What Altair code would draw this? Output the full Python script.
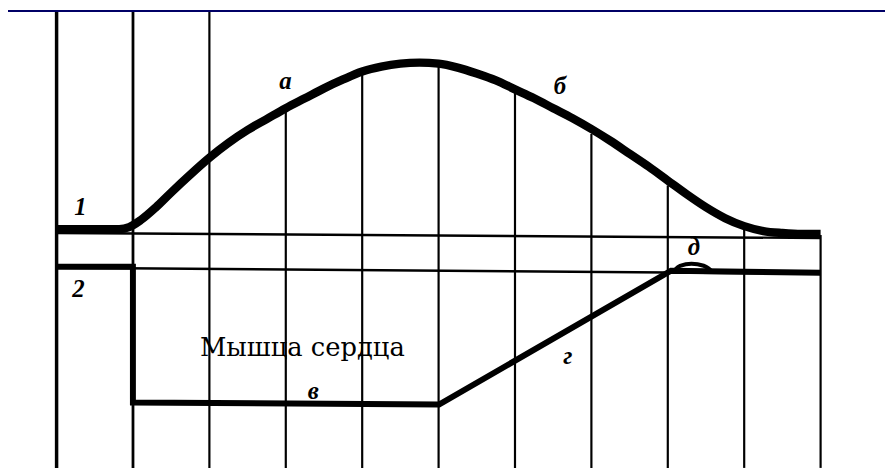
import altair as alt
import pandas as pd

# x: time in grid divisions (one division per vertical line, 0..10)
# v: deflection above baseline of trace 1 (arbitrary units)

grid_t = [0, 1, 2, 3, 4, 5, 6, 7, 8, 9, 10]
grid_top = [225, 225, 225, 127, 163, 171, 144, 102, 50, 7, 0]
grid_bottom = [-235] * 11
grid_w = [3.5, 2.8, 2.2, 2.2, 2.2, 2.2, 2.2, 2.2, 2.2, 2.2, 2.2]

# trace 1: contraction curve
c1_t = [0, 0.817, 0.95, 1.1, 1.3, 1.5, 1.75, 2.0, 2.25, 2.5, 2.75, 3.0, 3.25,
        3.5, 3.75, 4.0, 4.25, 4.5, 4.75, 5.0, 5.25, 5.5, 5.75, 6.0, 6.25, 6.5,
        6.75, 7.0, 7.25, 7.5, 7.75, 8.0, 8.25, 8.5, 8.75, 9.0, 9.25, 9.5, 9.75, 10]
c1_v = [6, 6, 8, 15, 28, 43, 61, 78, 93, 106, 117, 128, 138,
        148, 157, 165, 170, 173, 174, 173, 169, 163, 156, 147, 138, 128,
        118, 107, 95, 82, 69, 55, 41, 28, 17, 9, 4, 2, 1, 1]

# trace 2: heart-muscle excitability
c2_t = [0, 0.999, 0.999, 5.006, 8.042, 10]
c2_v = [-32, -32, -169, -171, -36, -38]

# small hump "д"
hump_t = [8.08, 8.16, 8.31, 8.47, 8.57]
hump_v = [-36, -31, -29, -31, -36]

# thin baselines
base_series = ["1", "1", "2", "2"]
base_t = [0, 10, 0, 10]
base_v = [2, -3, -33, -39]

# labels
lab_text = ["1", "2", "а", "б", "в", "г", "д"]
lab_t = [0.311, 0.285, 2.996, 6.589, 3.359, 6.693, 8.340]
lab_v = [20, -63, 147, 142, -165, -130, -20]

cap_text = ["Мышца сердца"]
cap_t = [3.217]
cap_v = [-122]

W, H = 885, 462
xs = alt.Scale(domain=[-0.636, 10.843], nice=False, zero=False)
ys = alt.Scale(domain=[-235, 227], nice=False, zero=False)

X = lambda f: alt.X(f, type="quantitative", scale=xs, axis=None)
Y = lambda f: alt.Y(f, type="quantitative", scale=ys, axis=None)

grid_df = pd.DataFrame({"t": grid_t, "top": grid_top, "bot": grid_bottom, "w": grid_w})
c1_df = pd.DataFrame({"t": c1_t, "v": c1_v})
c2_df = pd.DataFrame({"t": c2_t, "v": c2_v, "i": list(range(len(c2_t)))})
hump_df = pd.DataFrame({"t": hump_t, "v": hump_v})
base_df = pd.DataFrame({"s": base_series, "t": base_t, "v": base_v})
lab_df = pd.DataFrame({"t": lab_t, "v": lab_v, "txt": lab_text})
cap_df = pd.DataFrame({"t": cap_t, "v": cap_v, "txt": cap_text})

grid = alt.Chart(grid_df).mark_rule(color="black").encode(
    x=X("t"), y=Y("top"), y2="bot",
    strokeWidth=alt.StrokeWidth("w:Q", scale=None, legend=None),
)

base = alt.Chart(base_df).mark_line(color="black", strokeWidth=2.5).encode(
    x=X("t"), y=Y("v"), detail="s:N"
)

c1 = alt.Chart(c1_df).mark_line(color="black", strokeWidth=8.5, interpolate="monotone",
                                strokeCap="butt").encode(x=X("t"), y=Y("v"))

c2 = alt.Chart(c2_df).mark_line(color="black", strokeWidth=6, strokeJoin="miter",
                                strokeCap="butt").encode(
    x=X("t"), y=Y("v"), order="i:Q"
)

hump = alt.Chart(hump_df).mark_line(color="black", strokeWidth=4,
                                    interpolate="monotone").encode(x=X("t"), y=Y("v"))

labels = alt.Chart(lab_df).mark_text(
    font="Liberation Serif", fontSize=25, fontStyle="italic", fontWeight="bold",
    color="black", align="center", baseline="alphabetic"
).encode(x=X("t"), y=Y("v"), text="txt:N")

caption = alt.Chart(cap_df).mark_text(
    font="DejaVu Serif", fontSize=26, color="black", align="center",
    baseline="alphabetic"
).encode(x=X("t"), y=Y("v"), text="txt:N")

topband = alt.Chart(pd.DataFrame({"a": [0]})).mark_rect(color="#000066").encode(
    x=alt.value(0), x2=alt.value(W), y=alt.value(0), y2=alt.value(2)
)

chart = alt.layer(grid, base, c1, c2, hump, labels, caption, topband).properties(
    width=W, height=H, padding=0, background="white",
    autosize=alt.AutoSizeParams(type="none"),
).configure_view(stroke=None)

chart.save("out.html", embed_options={"renderer": "svg", "actions": False})
